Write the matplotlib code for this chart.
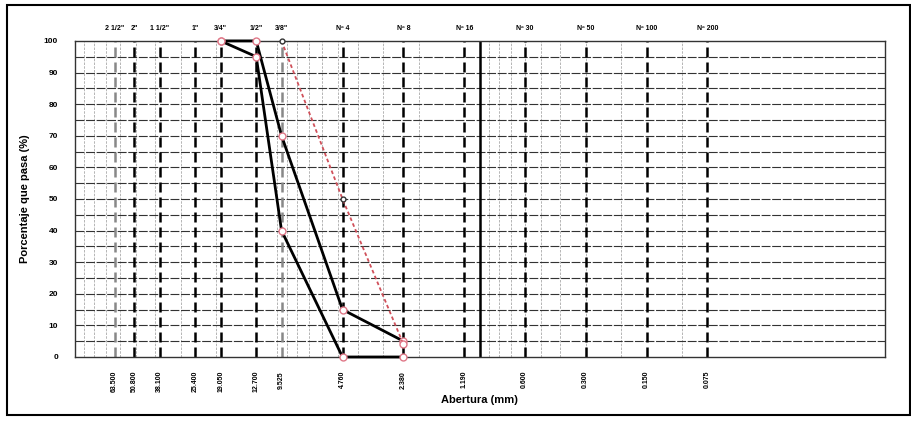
import numpy as np
from matplotlib import pyplot as plt
from matplotlib.patches import Rectangle

plt.rcParams['font.family'] = ['Liberation Sans', 'DejaVu Sans']

# sieves
sieve_names = ['2 1/2"', '2"', '1 1/2"', '1"', '3/4"', '1/2"', '3/8"',
               'Nº 4', 'Nº 8', 'Nº 16', 'Nº 30', 'Nº 50', 'Nº 100', 'Nº 200']
sieve_mm = [63.5, 50.8, 38.1, 25.4, 19.05, 12.7, 9.525,
            4.76, 2.38, 1.19, 0.6, 0.3, 0.15, 0.075]
sieve_labels = ['63.500', '50.800', '38.100', '25.400', '19.050', '12.700', '9.525',
                '4.760', '2.380', '1.190', '0.600', '0.300', '0.150', '0.075']

# limit curves
lim_mm = [19.05, 12.7, 9.525, 4.76, 2.38]
lim_upper = [100, 100, 70, 15, 5]
lim_lower = [100, 95, 40, 0, 0]

# sample curve
muestra_mm = [9.525, 4.76, 2.38]
muestra_pct = [100, 50, 4]

fig = plt.figure(figsize=(9.12, 4.26), dpi=100)
ax = fig.add_axes([0.082, 0.162, 0.888, 0.742])

ax.set_xscale('log')
ax.set_xlim(100, 0.01)
ax.set_ylim(0, 100)

# minor log grid
for n in [-1, 0, 1]:
    for k in range(1, 10):
        v = k * 10.0 ** n
        ax.axvline(v, color='#aaaaaa', lw=0.6, ls=(0, (3, 1.5)), zorder=1)
ax.axvline(1.0, color='black', lw=1.8, zorder=2)

# horizontal grid every 5 %
for y in range(5, 100, 5):
    ax.axhline(y, color='#333333', lw=0.8, ls=(0, (8, 1.5)), zorder=1)

# sieve lines
for s in sieve_mm:
    c = '#888888' if s in (63.5, 9.525) else 'black'
    ax.axvline(s, color=c, lw=1.8, ls=(0, (4, 2)), zorder=2)

mk = dict(marker='o', ms=5, mfc='white', mec='#e07888', mew=1.0, clip_on=False)
ax.plot(lim_mm, lim_upper, color='black', lw=2, zorder=4, **mk)
ax.plot(lim_mm, lim_lower, color='black', lw=2, zorder=4, **mk)
ax.plot(muestra_mm, muestra_pct, color='#d0505a', lw=1.3, ls=(0, (2, 1.5)), zorder=5,
        clip_on=False)
ax.plot(muestra_mm[:2], muestra_pct[:2], ls='none', marker='o', ms=3.5,
        mfc='white', mec='#333333', mew=1.0, zorder=6, clip_on=False)
ax.plot(muestra_mm[2:], muestra_pct[2:], ls='none', zorder=6, **mk)

ax.set_yticks(range(0, 101, 10))
ax.set_yticklabels([str(v) for v in range(0, 101, 10)], fontsize=6, fontweight='bold')
ax.tick_params(axis='y', length=0, pad=12)
ax.set_xticks(sieve_mm)
ax.set_xticklabels(sieve_labels, rotation=90, fontsize=5, fontweight='bold')
ax.tick_params(axis='x', length=0, pad=10, which='both')
ax.xaxis.set_minor_locator(plt.NullLocator())

for name, s in zip(sieve_names, sieve_mm):
    ax.text(s, 104, name, ha='center', va='center', fontsize=5, fontweight='bold')

ax.set_ylabel('Porcentaje que pasa (%)', fontsize=8, fontweight='bold', labelpad=10)
ax.set_xlabel('Abertura (mm)', fontsize=8, fontweight='bold', labelpad=2)

for sp in ax.spines.values():
    sp.set_linewidth(1.0)
    sp.set_color('#333333')

fig.patches.append(Rectangle((0.008, 0.025), 0.99, 0.963, transform=fig.transFigure,
                             fill=False, lw=1.5, ec='black'))

fig.savefig('out.png', dpi=100)
